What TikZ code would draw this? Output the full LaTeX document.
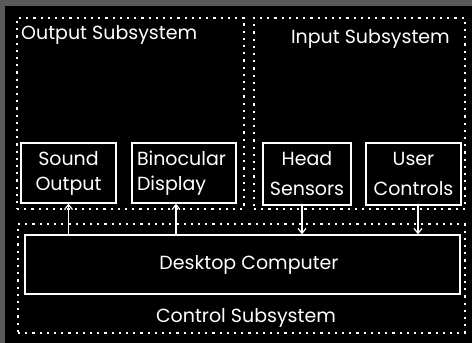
\documentclass[tikz,border=0pt]{standalone}
\usepackage{fontspec}
\setmainfont{Poppins}
\usetikzlibrary{arrows.meta}
\begin{document}
\begin{tikzpicture}[x=1pt,y=-1pt,
  every node/.style={text=white,font=\fontsize{19}{25}\selectfont},
  blk/.style={draw=white,line width=1.3pt,minimum width=#1,inner sep=0pt},
  sub/.style={draw=white,line width=1.6pt,dash pattern=on 2.2pt off 5pt,line cap=butt,inner sep=0pt},
  arr/.style={draw=white,line width=1.2pt,-{Straight Barb[length=5pt,width=8pt]}}]
\useasboundingbox (0,0) rectangle (472,343);
\fill[black!65] (0,0) rectangle (472,343);
\fill[black] (5,6) rectangle (472,343);
% subsystem frames
\node[sub,minimum width=227pt,minimum height=191pt] (outsub) at (130.5,113.5) {};
\node[sub,minimum width=211pt,minimum height=191pt] (insub) at (359.5,113.5) {};
\node[sub,minimum width=447pt,minimum height=109pt] (ctrlsub) at (241.5,278.5) {};
% subsystem titles
\node[anchor=west,inner sep=0pt] (outt) at (21,35) {Output Subsystem};
\node[anchor=east,inner sep=0pt] (int) at (450,39) {Input Subsystem};
\node[inner sep=0pt] (ctrlt) at (246,318) {Control Subsystem};
% blocks
\node[blk=95pt,minimum height=60pt,align=center] (sound) at (68.5,173) {Sound\\Output\hspace*{0pt}};
\node[blk=104pt,minimum height=60pt,align=left,text width=94pt] (bino) at (184,173) {Binocular\\Display};
\node[blk=88pt,minimum height=62pt,align=center,font=\fontsize{19}{30}\selectfont] (head) at (307,174) {Head\\Sensors};
\node[blk=95pt,minimum height=62pt,align=center,font=\fontsize{19}{30}\selectfont] (user) at (413.5,174) {User\\Controls};
\node[blk=435pt,minimum height=59pt] (desk) at (242.5,264.5) {\hspace*{13pt}Desktop Computer};
% connectors
\draw[arr] (sound.south |- desk.north) -- (sound.south);
\draw[arr] ([xshift=-8pt]bino.south |- desk.north) -- ([xshift=-8pt]bino.south);
\draw[arr] ([xshift=-5pt]head.south) -- ([xshift=-5pt]head.south |- desk.north);
\draw[arr] ([xshift=4.5pt]user.south) -- ([xshift=4.5pt]user.south |- desk.north);
\end{tikzpicture}
\end{document}
